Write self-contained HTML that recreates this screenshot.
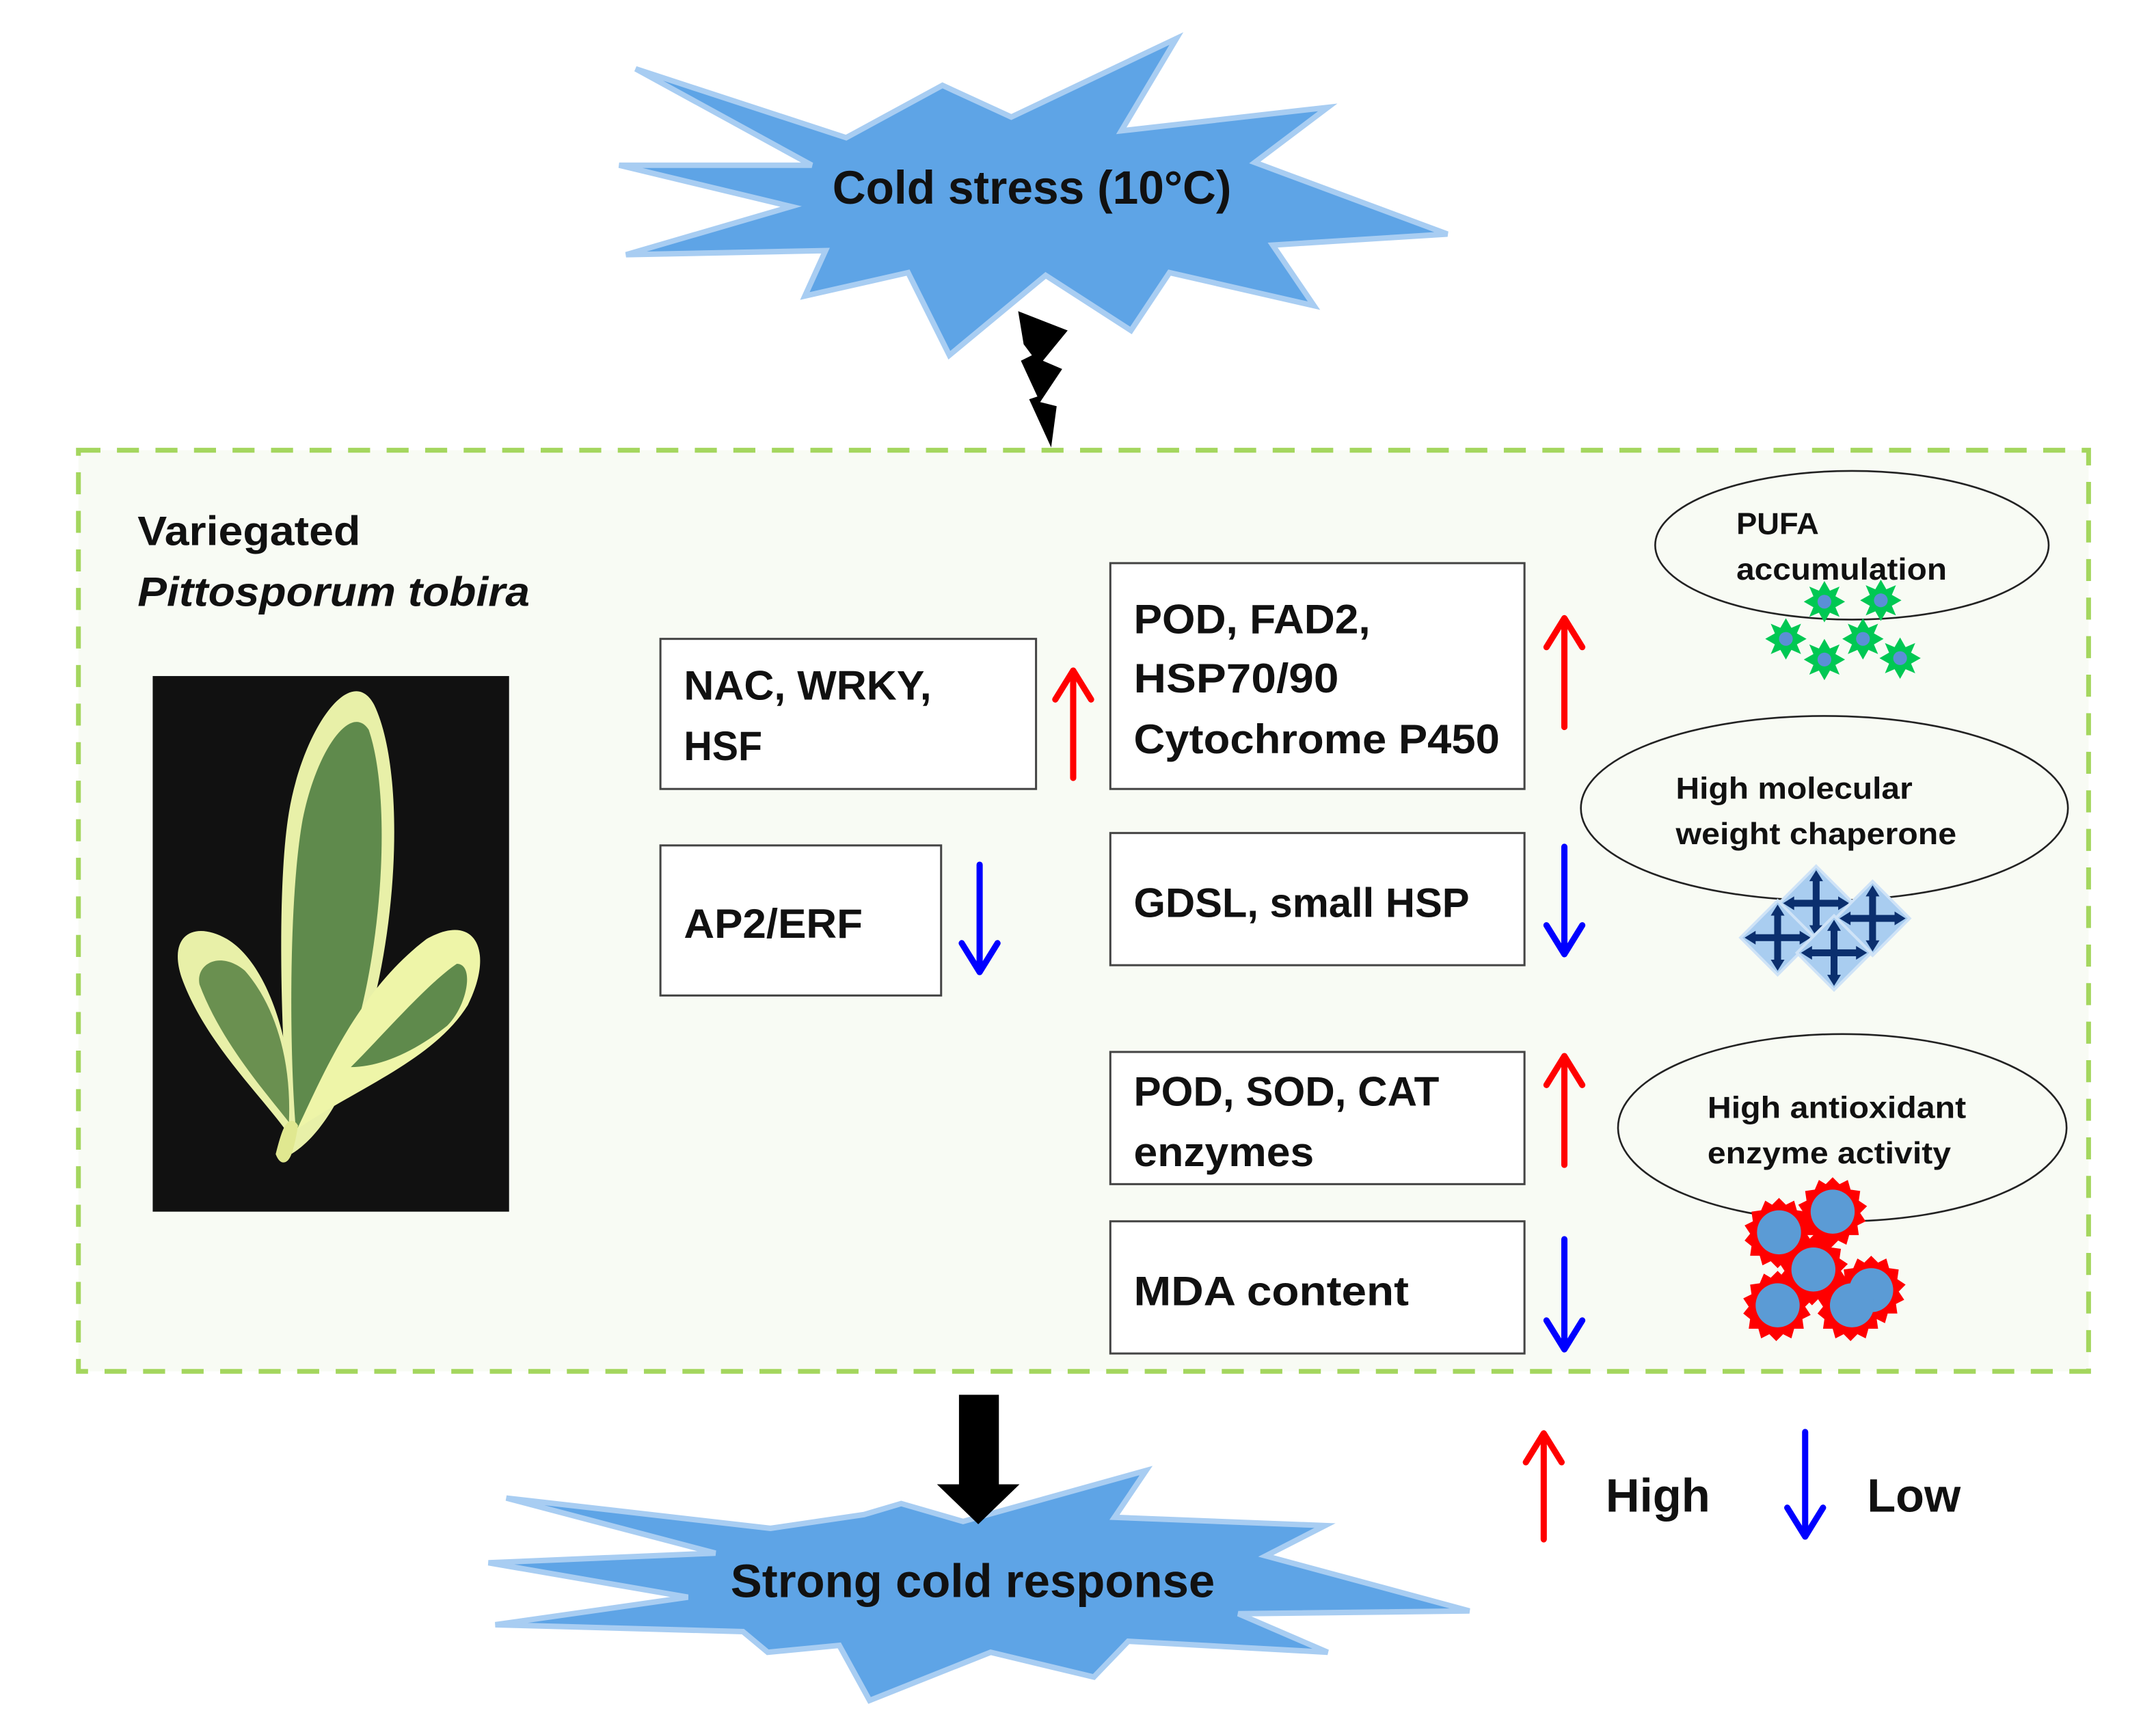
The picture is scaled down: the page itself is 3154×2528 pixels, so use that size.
<!DOCTYPE html>
<html><head><meta charset="utf-8"><style>
html,body{margin:0;padding:0;background:#fff;}
svg{display:block;}
text{font-family:"Liberation Sans",sans-serif;font-weight:bold;fill:#111;}
</style></head><body>
<svg width="3154" height="2528" viewBox="0 0 1567 1255" preserveAspectRatio="none" xmlns="http://www.w3.org/2000/svg">
<defs>
<polygon id="gs" points="0,-15 4,-8 11,-11 8,-4 15,0 8,4 11,11 4,8 0,15 -4,8 -11,11 -8,4 -15,0 -8,-4 -11,-11 -4,-8" fill="#00c853"/>
<polygon id="rs" points="0,-25 5,-20 11,-23 13,-16 20,-15 19,-8 25,-4 20,1 24,7 18,10 19,17 12,17 10,24 4,21 -1,26 -6,21 -12,24 -14,17 -21,17 -20,10 -25,6 -21,1 -25,-5 -19,-8 -20,-15 -13,-16 -10,-23 -5,-20" fill="#ff0000"/>
<g id="cr">
<polygon points="0,-27 27,0 0,27 -27,0" fill="#a9cdf0" stroke="#cfe3f7" stroke-width="2"/>
<rect x="-2.5" y="-20" width="5" height="40" fill="#0b2f6e"/>
<rect x="-20" y="-2.5" width="40" height="5" fill="#0b2f6e"/>
<polygon points="0,-24 -5,-16 5,-16" fill="#0b2f6e"/><polygon points="0,24 -5,16 5,16" fill="#0b2f6e"/>
<polygon points="-24,0 -16,-5 -16,5" fill="#0b2f6e"/><polygon points="24,0 16,-5 16,5" fill="#0b2f6e"/>
</g>
</defs>
<!-- top star -->
<polygon points="462,50 615,100 685,62 735,85 855,28 815,95 965,78 912,118 1052,170 925,178 955,222 850,198 822,240 760,200 690,258 660,198 585,215 600,182 455,185 575,150 450,120 590,120" fill="#5ea4e6" stroke="#a8cdf2" stroke-width="4" stroke-linejoin="miter"/>
<text x="750" y="148" font-size="34" text-anchor="middle" textLength="290" lengthAdjust="spacingAndGlyphs">Cold stress (10°C)</text>
<!-- lightning -->
<polygon points="740,226 776,240 758,262 772,268 756,292 768,295 764,325 748,290 754,288 742,262 750,258 744,250" fill="#000"/>
<!-- dashed box -->
<rect x="57" y="327" width="1461" height="669" fill="#f8fbf4" stroke="#a4d65e" stroke-width="3.5" stroke-dasharray="16,12"/>
<text x="100" y="396" font-size="30" textLength="162" lengthAdjust="spacingAndGlyphs">Variegated</text>
<text x="100" y="440" font-size="30" font-style="italic" textLength="285" lengthAdjust="spacingAndGlyphs">Pittosporum tobira</text>
<!-- leaf photo -->
<rect x="111" y="491" width="259" height="389" fill="#111"/>
<path d="M212,838 C205,780 200,650 210,590 C220,530 255,480 272,512 C295,560 290,680 262,760 C245,810 225,830 212,838Z" fill="#e8f0a8"/>
<path d="M215,820 C210,760 210,650 220,595 C230,545 255,510 268,530 C285,580 278,690 255,760 C240,800 225,815 215,820Z" fill="#5f8a4c"/>
<path d="M214,830 C195,800 150,760 132,710 C122,680 140,668 165,682 C195,700 215,760 214,830Z" fill="#e8f0a8"/>
<path d="M210,815 C190,790 160,755 145,715 C142,700 160,690 178,705 C200,730 212,770 210,815Z" fill="#6a9050"/>
<path d="M216,820 C235,780 260,720 310,682 C345,662 360,690 340,730 C315,770 260,790 216,820Z" fill="#eef5a8"/>
<path d="M255,775 C280,750 310,715 332,700 C345,700 340,730 325,745 C300,765 275,775 255,775Z" fill="#5f8a4c"/>
<path d="M214,818 C212,830 208,850 203,838 C206,826 210,812 214,818Z" fill="#e0e890" stroke="#e0e890" stroke-width="5"/>
<!-- boxes -->
<g fill="#fff" stroke="#444" stroke-width="1.5">
<rect x="480" y="464" width="273" height="109"/>
<rect x="480" y="614" width="204" height="109"/>
<rect x="807" y="409" width="301" height="164"/>
<rect x="807" y="605" width="301" height="96"/>
<rect x="807" y="764" width="301" height="96"/>
<rect x="807" y="887" width="301" height="96"/>
</g>
<g font-size="30">
<text x="497" y="508" textLength="180" lengthAdjust="spacingAndGlyphs">NAC, WRKY,</text>
<text x="497" y="552" textLength="57" lengthAdjust="spacingAndGlyphs">HSF</text>
<text x="497" y="681" textLength="130" lengthAdjust="spacingAndGlyphs">AP2/ERF</text>
<text x="824" y="460" textLength="172" lengthAdjust="spacingAndGlyphs">POD, FAD2,</text>
<text x="824" y="503" textLength="149" lengthAdjust="spacingAndGlyphs">HSP70/90</text>
<text x="824" y="547" textLength="266" lengthAdjust="spacingAndGlyphs">Cytochrome P450</text>
<text x="824" y="666" textLength="244" lengthAdjust="spacingAndGlyphs">GDSL, small HSP</text>
<text x="824" y="803" textLength="222" lengthAdjust="spacingAndGlyphs">POD, SOD, CAT</text>
<text x="824" y="847" textLength="131" lengthAdjust="spacingAndGlyphs">enzymes</text>
<text x="824" y="948" textLength="200" lengthAdjust="spacingAndGlyphs">MDA content</text>
</g>
<!-- arrows -->
<g stroke-width="4.5" fill="none" stroke-linecap="round" stroke-linejoin="round">
<g stroke="#ff0000"><path d="M780,565 V487 M767,508 L780,487 L793,508"/>
<path d="M1137,528 V449 M1124,470 L1137,449 L1150,470"/>
<path d="M1137,846 V767 M1124,788 L1137,767 L1150,788"/>
<path d="M1122,1118 V1041 M1109,1062 L1122,1041 L1135,1062"/></g>
<g stroke="#0000ff"><path d="M712,628 V706 M699,685 L712,706 L725,685"/>
<path d="M1137,615 V693 M1124,672 L1137,693 L1150,672"/>
<path d="M1137,900 V980 M1124,959 L1137,980 L1150,959"/>
<path d="M1312,1040 V1116 M1299,1095 L1312,1116 L1325,1095"/></g>
</g>
<!-- ellipses -->
<g fill="none" stroke="#222" stroke-width="1.3">
<ellipse cx="1346" cy="396" rx="143" ry="54"/>
<ellipse cx="1326" cy="587" rx="177" ry="67"/>
<ellipse cx="1339" cy="819" rx="163" ry="68"/>
</g>
<g font-size="22">
<text x="1262" y="388" textLength="60" lengthAdjust="spacingAndGlyphs">PUFA</text>
<text x="1262" y="421" textLength="153" lengthAdjust="spacingAndGlyphs">accumulation</text>
<text x="1218" y="580" textLength="172" lengthAdjust="spacingAndGlyphs">High molecular</text>
<text x="1218" y="613" textLength="204" lengthAdjust="spacingAndGlyphs">weight chaperone</text>
<text x="1241" y="812" textLength="188" lengthAdjust="spacingAndGlyphs">High antioxidant</text>
<text x="1241" y="845" textLength="177" lengthAdjust="spacingAndGlyphs">enzyme activity</text>
</g>
<!-- green stars -->
<g>
<use href="#gs" x="1326" y="437"/><use href="#gs" x="1367" y="436"/>
<use href="#gs" x="1298" y="464"/><use href="#gs" x="1326" y="479"/>
<use href="#gs" x="1354" y="464"/><use href="#gs" x="1381" y="478"/>
<g fill="#5b8fd6"><circle cx="1326" cy="437" r="5"/><circle cx="1367" cy="436" r="5"/><circle cx="1298" cy="464" r="5"/><circle cx="1326" cy="479" r="5"/><circle cx="1354" cy="464" r="5"/><circle cx="1381" cy="478" r="5"/></g>
</g>
<!-- crosses -->
<use href="#cr" x="1320" y="656"/><use href="#cr" x="1361" y="667"/>
<use href="#cr" x="1292" y="681"/><use href="#cr" x="1333" y="692"/>
<!-- red spiky -->
<g>
<use href="#rs" x="1293" y="895"/><use href="#rs" x="1332" y="880"/>
<use href="#rs" x="1318" y="922"/><use href="#rs" x="1360" y="937"/>
<use href="#rs" x="1292" y="948"/><use href="#rs" x="1346" y="948"/>
<g fill="#5b9bd5"><circle cx="1293" cy="895" r="16"/><circle cx="1332" cy="880" r="16"/><circle cx="1318" cy="922" r="16"/><circle cx="1360" cy="937" r="16"/><circle cx="1292" cy="948" r="16"/><circle cx="1346" cy="948" r="16"/></g>
</g>
<!-- bottom star -->
<polygon points="368,1088 560,1110 628,1100 655,1092 700,1105 833,1068 810,1102 963,1108 920,1130 1068,1170 900,1172 965,1200 820,1192 795,1218 720,1200 632,1235 610,1195 558,1200 540,1185 360,1180 500,1160 355,1135 520,1128" fill="#5ea4e6" stroke="#a8cdf2" stroke-width="4"/>
<!-- bottom black arrow -->
<polygon points="697,1013 726,1013 726,1078 741,1078 711,1107 681,1078 697,1078" fill="#000"/>
<text x="707" y="1160" font-size="34" text-anchor="middle" textLength="352" lengthAdjust="spacingAndGlyphs">Strong cold response</text>
<!-- legend -->
<text x="1167" y="1098" font-size="34" textLength="76" lengthAdjust="spacingAndGlyphs">High</text>
<text x="1357" y="1098" font-size="34" textLength="68" lengthAdjust="spacingAndGlyphs">Low</text>
</svg>
</body></html>
